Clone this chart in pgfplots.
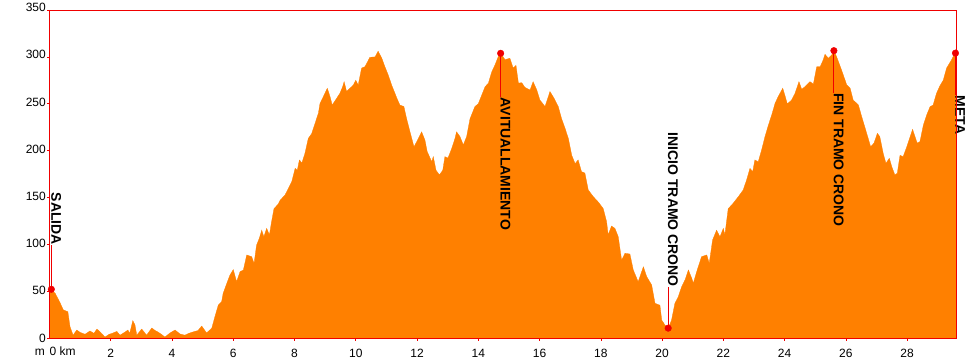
\documentclass[border=0pt]{standalone}
\usepackage{pgfplots}
\pgfplotsset{compat=1.18}
\usepackage{fontspec}
\setmainfont{Liberation Sans}
\definecolor{prof}{RGB}{255,128,0}
\definecolor{axred}{RGB}{240,0,0}
\begin{document}
\begin{tikzpicture}
\clip (-49.5pt,-22pt) rectangle (930.5pt,338pt);
\begin{axis}[
  at={(0,0)}, anchor=south west,
  scale only axis, width=907.2pt, height=328pt,
  xmin=0, xmax=29.62, ymin=0, ymax=350,
  axis line style={axred, line width=0.8pt},
  xtick={2,4,...,28}, ytick={0,50,...,350},
  xtick pos=bottom, ytick pos=left,
  tick align=outside, major tick length=2.5pt,
  tick style={axred, line width=0.6pt},
  /pgf/number format/assume math mode=true,
  ticklabel style={font=\fontsize{12}{14}\selectfont, text=black},
  xticklabel style={anchor=base, yshift=-17pt},
  yticklabel style={anchor=east, inner xsep=1pt},
  yticklabel={\pgfmathsetlengthmacro\myshift{0.75*\ticknum}\raisebox{\myshift}{\pgfmathprintnumber{\tick}}},
  axis on top,
  clip=false,
]
\addplot[fill=prof, draw=prof, line width=0.3pt] coordinates {
(0,52) (0.18,48) (0.34,38) (0.45,30) (0.60,28) (0.67,12) (0.77,3) (0.89,8.5) (1.0,6) (1.16,4) (1.32,7.5) (1.45,5) (1.55,9.6) (1.7,5) (1.81,1) (1.95,4) (2.07,5.3) (2.2,7) (2.30,3) (2.45,6) (2.56,8.5) (2.62,5) (2.72,18.5) (2.79,14) (2.85,3) (3.01,9.6) (3.17,3) (3.34,10.7) (3.45,8) (3.54,6.4) (3.65,4) (3.77,1) (3.93,5.3) (4.10,8.5) (4.26,4.3) (4.42,3) (4.55,5) (4.68,6.4) (4.85,8) (4.97,12.8) (5.13,5.3) (5.30,10.7) (5.40,22.7) (5.51,35) (5.62,38.7) (5.67,47.7) (5.79,58.4) (5.89,67) (6.00,73) (6.11,60) (6.22,70.7) (6.33,72.6) (6.44,88.6) (6.60,86.8) (6.68,79.7) (6.76,99) (6.85,106.4) (6.93,115) (7.00,108) (7.09,117) (7.18,110) (7.25,124) (7.33,138) (7.47,143) (7.53,147) (7.69,152.6) (7.80,159.7) (7.91,166.8) (8.02,181) (8.09,179) (8.16,190) (8.24,186.7) (8.34,197) (8.45,213) (8.56,218) (8.67,229) (8.78,240) (8.83,250) (8.94,257.5) (9.07,266.5) (9.16,257.5) (9.23,248.6) (9.32,253) (9.48,261) (9.57,268) (9.62,273.5) (9.70,263) (9.81,266.5) (9.92,270) (10.00,275) (10.08,270) (10.19,288) (10.30,289.5) (10.46,299.5) (10.63,300) (10.73,306) (10.85,298.5) (10.95,289.5) (11.06,280.6) (11.17,270) (11.34,256) (11.44,248.6) (11.57,247) (11.66,234) (11.77,220) (11.90,204) (11.99,209.5) (12.15,220) (12.26,211) (12.33,199) (12.48,188) (12.53,193.5) (12.62,179) (12.73,174) (12.84,179) (12.91,193.5) (13.01,192) (13.13,202) (13.24,213) (13.29,220) (13.40,215) (13.51,206) (13.62,215) (13.73,234) (13.89,247) (14.00,250) (14.11,259) (14.22,268) (14.33,272) (14.44,284) (14.54,291) (14.65,300) (14.73,304) (14.87,297) (15.03,298.5) (15.14,288) (15.23,291) (15.31,272) (15.42,272.4) (15.52,267.5) (15.69,264.6) (15.79,273.5) (15.91,264.6) (16.01,254) (16.18,247) (16.34,263) (16.47,256) (16.61,247) (16.72,234) (16.83,224) (16.94,213) (17.05,195) (17.16,186) (17.26,190) (17.37,177.5) (17.48,176) (17.59,158) (17.75,151) (17.92,145) (18.08,138) (18.19,124) (18.24,110) (18.35,119.5) (18.46,117) (18.57,108) (18.68,83) (18.79,90.4) (18.95,89.6) (19.06,72.6) (19.22,60) (19.39,76) (19.50,65.4) (19.66,56.6) (19.77,37) (19.93,35) (19.99,19) (20.09,14) (20.20,10.5) (20.31,19) (20.42,37) (20.53,44) (20.64,54.7) (20.75,62) (20.86,72.6) (20.97,63.7) (21.02,58.4) (21.13,70.7) (21.29,86.8) (21.46,88.6) (21.54,79.7) (21.65,104.6) (21.78,115) (21.89,108) (22.00,117) (22.05,110) (22.16,138) (22.32,143.7) (22.49,150.8) (22.65,158) (22.76,168.6) (22.87,181) (22.96,177.5) (23.03,190) (23.14,188) (23.25,200.6) (23.36,214.8) (23.47,227) (23.58,238) (23.69,250.4) (23.79,257.5) (23.94,266.5) (24.01,259) (24.09,249.7) (24.23,254) (24.34,261) (24.47,273.5) (24.56,265.4) (24.66,268) (24.83,273.5) (24.94,271) (25.05,289.5) (25.16,289.5) (25.24,295) (25.32,302.7) (25.43,298.5) (25.54,302) (25.61,306.6) (25.70,300) (25.86,286) (26.03,270) (26.14,266.5) (26.24,254) (26.41,248.6) (26.52,236) (26.63,224) (26.73,213) (26.81,204) (26.92,208) (27.03,218.4) (27.11,214.8) (27.22,197) (27.31,186.4) (27.42,191.8) (27.50,182.8) (27.60,174) (27.68,175.8) (27.77,195) (27.87,193.5) (27.99,204) (28.10,214.8) (28.18,222.7) (28.26,214.8) (28.33,208) (28.42,209.5) (28.53,227) (28.64,238) (28.75,246.8) (28.85,248.6) (28.96,261) (29.07,269) (29.18,275) (29.29,288) (29.45,296.7) (29.56,303.8) (29.62,304)
} \closedcycle;
% annotation lines and labels
\begin{scope}[font=\fontsize{14}{16}\selectfont\bfseries]
\draw[axred, line width=0.8pt] (axis cs:0.06,52) -- ++(0,44pt) node[rotate=-90, anchor=base east, inner sep=0pt, text=black] {SALIDA};
\draw[axred, line width=0.8pt] (axis cs:14.73,303.8) -- ++(0,-44pt) node[rotate=-90, anchor=base west, inner sep=0pt, text=black] {AVITUALLAMIENTO};
\draw[axred, line width=0.8pt] (axis cs:20.20,10.5) -- ++(0,41pt) node[rotate=-90, anchor=base east, inner sep=0pt, text=black] {INICIO TRAMO CRONO};
\draw[axred, line width=0.8pt] (axis cs:25.61,306.6) -- ++(0,-42pt) node[rotate=-90, anchor=base west, inner sep=0pt, text=black] {FIN TRAMO CRONO};
\draw[axred, line width=0.8pt] (axis cs:29.58,304) -- ++(0,-42pt) node[rotate=-90, anchor=base west, inner sep=0pt, text=black] {META};
\end{scope}
\addplot[only marks, mark=*, mark size=3.3pt, color=axred] coordinates {
(0.06,52) (14.73,303.8) (20.20,10.5) (25.61,306.6) (29.58,304)
};
\node[anchor=base east, inner sep=0pt, font=\fontsize{12}{14}\selectfont] at ([yshift=-17pt, xshift=-4.5pt]rel axis cs:0,0) {m};
\node[anchor=base west, inner sep=0pt, font=\fontsize{12}{14}\selectfont] at ([yshift=-17pt]rel axis cs:0,0) {0 km};
\end{axis}
\end{tikzpicture}
\end{document}
